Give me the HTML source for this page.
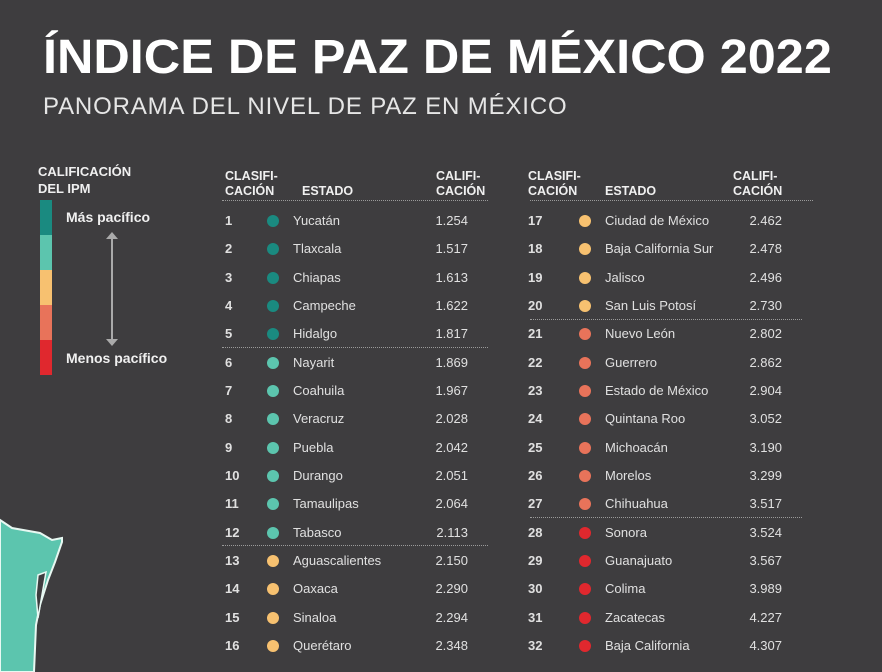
<!DOCTYPE html>
<html><head><meta charset="utf-8"><style>
body{margin:0;width:882px;height:672px;background:#3e3d3f;overflow:hidden;position:relative;font-family:"Liberation Sans",sans-serif;color:#e8e8e8}
.a{position:absolute;white-space:nowrap}
.t{left:43px;top:30px;font-size:48px;font-weight:bold;color:#fff;letter-spacing:0;transform:scaleX(1.05);transform-origin:left}
.s{left:43px;top:93px;font-size:24px;color:#e6e6e6;letter-spacing:0.85px}
.h{font-size:12.5px;font-weight:bold;line-height:15px;color:#f0f0f0}
.r{position:absolute;left:0;width:882px;height:20px;font-size:13px;color:#e0e0e0;white-space:nowrap}
.r b{position:absolute;top:0;font-size:13px}
.r i{position:absolute;top:2px;width:12px;height:12px;border-radius:50%}
.r span{position:absolute;top:0;white-space:nowrap}
.r em{position:absolute;top:0;width:50px;text-align:right;font-style:normal}
.L b{left:225px}.L i{left:267px}.L span{left:293px}.L em{left:418px}
.R b{left:528px}.R i{left:579px}.R span{left:605px}.R em{left:732px}
.c0{background:#1a8a80}.c1{background:#5cc5ae}.c2{background:#f7c170}.c3{background:#e8735a}.c4{background:#e0282e}
.ln{height:0;border-top:1.5px dotted #9a9a9a}
</style></head><body>
<div class="a t">ÍNDICE DE PAZ DE MÉXICO 2022</div>
<div class="a s">PANORAMA DEL NIVEL DE PAZ EN MÉXICO</div>
<div class="a h" style="left:38px;top:163px;font-size:13px;line-height:17px">CALIFICACIÓN<br>DEL IPM</div>
<div class="a" style="left:40px;top:200px;width:12px;height:35px;background:#1a8a80"></div>
<div class="a" style="left:40px;top:235px;width:12px;height:35px;background:#5cc5ae"></div>
<div class="a" style="left:40px;top:270px;width:12px;height:35px;background:#f7c170"></div>
<div class="a" style="left:40px;top:305px;width:12px;height:35px;background:#e8735a"></div>
<div class="a" style="left:40px;top:340px;width:12px;height:35px;background:#e0282e"></div>
<div class="a" style="left:66px;top:209px;font-size:14px;font-weight:bold;color:#f0f0f0">Más pacífico</div>
<div class="a" style="left:66px;top:350px;font-size:14px;font-weight:bold;color:#f0f0f0">Menos pacífico</div>
<svg class="a" style="left:100px;top:230px" width="24" height="118"><line x1="12" y1="6" x2="12" y2="112" stroke="#aaa" stroke-width="2"/><polygon points="6,9 18,9 12,2" fill="#aaa"/><polygon points="6,109 18,109 12,116" fill="#aaa"/></svg>
<svg class="a" style="left:0;top:500px" width="230" height="172"><path d="M0,20 L12,28 L40,33 L52,40 L62,38 L62,42 L55,62 L48,80 L40,105 L36,125 L34,172 L0,172 Z" fill="#5cc5ae" stroke="#e8f8f2" stroke-width="2"/><path d="M38,75 L46,72 L42,95 L38,118 L36,95 Z" fill="#3e3d3f" stroke="#e8f8f2" stroke-width="1.5"/></svg>
<div class="a h" style="left:225px;top:169px">CLASIFI-<br>CACIÓN</div>
<div class="a h" style="left:302px;top:184px">ESTADO</div>
<div class="a h" style="left:436px;top:169px">CALIFI-<br>CACIÓN</div>
<div class="a h" style="left:528px;top:169px">CLASIFI-<br>CACIÓN</div>
<div class="a h" style="left:605px;top:184px">ESTADO</div>
<div class="a h" style="left:733px;top:169px">CALIFI-<br>CACIÓN</div>
<div class="a ln" style="left:222px;top:200px;width:266px"></div>
<div class="a ln" style="left:530px;top:200px;width:283px"></div>
<div class="a ln" style="left:222px;top:347px;width:266px"></div>
<div class="a ln" style="left:222px;top:545px;width:266px"></div>
<div class="a ln" style="left:530px;top:319px;width:272px"></div>
<div class="a ln" style="left:530px;top:517px;width:272px"></div>

<div class="r L" style="top:213px"><b>1</b><i class="c0"></i><span>Yucatán</span><em>1.254</em></div>
<div class="r L" style="top:241px"><b>2</b><i class="c0"></i><span>Tlaxcala</span><em>1.517</em></div>
<div class="r L" style="top:270px"><b>3</b><i class="c0"></i><span>Chiapas</span><em>1.613</em></div>
<div class="r L" style="top:298px"><b>4</b><i class="c0"></i><span>Campeche</span><em>1.622</em></div>
<div class="r L" style="top:326px"><b>5</b><i class="c0"></i><span>Hidalgo</span><em>1.817</em></div>
<div class="r L" style="top:355px"><b>6</b><i class="c1"></i><span>Nayarit</span><em>1.869</em></div>
<div class="r L" style="top:383px"><b>7</b><i class="c1"></i><span>Coahuila</span><em>1.967</em></div>
<div class="r L" style="top:411px"><b>8</b><i class="c1"></i><span>Veracruz</span><em>2.028</em></div>
<div class="r L" style="top:440px"><b>9</b><i class="c1"></i><span>Puebla</span><em>2.042</em></div>
<div class="r L" style="top:468px"><b>10</b><i class="c1"></i><span>Durango</span><em>2.051</em></div>
<div class="r L" style="top:496px"><b>11</b><i class="c1"></i><span>Tamaulipas</span><em>2.064</em></div>
<div class="r L" style="top:525px"><b>12</b><i class="c1"></i><span>Tabasco</span><em>2.113</em></div>
<div class="r L" style="top:553px"><b>13</b><i class="c2"></i><span>Aguascalientes</span><em>2.150</em></div>
<div class="r L" style="top:581px"><b>14</b><i class="c2"></i><span>Oaxaca</span><em>2.290</em></div>
<div class="r L" style="top:610px"><b>15</b><i class="c2"></i><span>Sinaloa</span><em>2.294</em></div>
<div class="r L" style="top:638px"><b>16</b><i class="c2"></i><span>Querétaro</span><em>2.348</em></div>

<div class="r R" style="top:213px"><b>17</b><i class="c2"></i><span>Ciudad de México</span><em>2.462</em></div>
<div class="r R" style="top:241px"><b>18</b><i class="c2"></i><span>Baja California Sur</span><em>2.478</em></div>
<div class="r R" style="top:270px"><b>19</b><i class="c2"></i><span>Jalisco</span><em>2.496</em></div>
<div class="r R" style="top:298px"><b>20</b><i class="c2"></i><span>San Luis Potosí</span><em>2.730</em></div>
<div class="r R" style="top:326px"><b>21</b><i class="c3"></i><span>Nuevo León</span><em>2.802</em></div>
<div class="r R" style="top:355px"><b>22</b><i class="c3"></i><span>Guerrero</span><em>2.862</em></div>
<div class="r R" style="top:383px"><b>23</b><i class="c3"></i><span>Estado de México</span><em>2.904</em></div>
<div class="r R" style="top:411px"><b>24</b><i class="c3"></i><span>Quintana Roo</span><em>3.052</em></div>
<div class="r R" style="top:440px"><b>25</b><i class="c3"></i><span>Michoacán</span><em>3.190</em></div>
<div class="r R" style="top:468px"><b>26</b><i class="c3"></i><span>Morelos</span><em>3.299</em></div>
<div class="r R" style="top:496px"><b>27</b><i class="c3"></i><span>Chihuahua</span><em>3.517</em></div>
<div class="r R" style="top:525px"><b>28</b><i class="c4"></i><span>Sonora</span><em>3.524</em></div>
<div class="r R" style="top:553px"><b>29</b><i class="c4"></i><span>Guanajuato</span><em>3.567</em></div>
<div class="r R" style="top:581px"><b>30</b><i class="c4"></i><span>Colima</span><em>3.989</em></div>
<div class="r R" style="top:610px"><b>31</b><i class="c4"></i><span>Zacatecas</span><em>4.227</em></div>
<div class="r R" style="top:638px"><b>32</b><i class="c4"></i><span>Baja California</span><em>4.307</em></div>
</body></html>
